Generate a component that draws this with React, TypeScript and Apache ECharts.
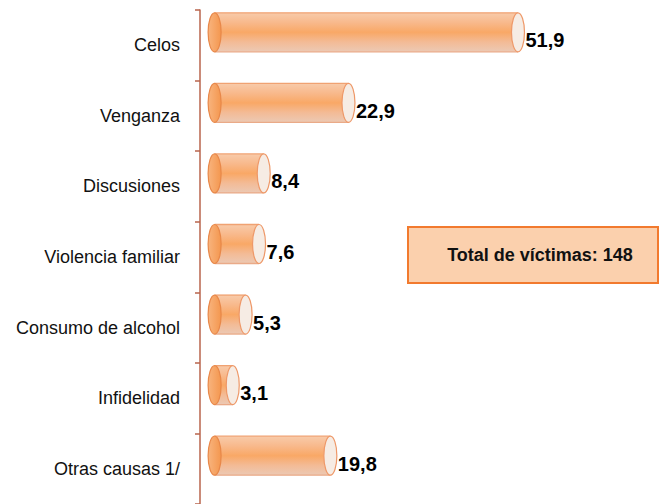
import React, { useEffect, useRef } from "react";
import * as echarts from "echarts";

const categories = [
  "Celos",
  "Venganza",
  "Discusiones",
  "Violencia familiar",
  "Consumo de alcohol",
  "Infidelidad",
  "Otras causas 1/",
];
const values = [51.9, 22.9, 8.4, 7.6, 5.3, 3.1, 19.8];
const totalLabel = "Total de víctimas: 148";

const FONT = "'Liberation Sans', Arial, sans-serif";

export default function App() {
  const ref = useRef<HTMLDivElement>(null);
  useEffect(() => {
    if (!ref.current) return;
    const chart = echarts.init(ref.current, null, { renderer: "svg" });
    const data = values.map((v, i) => [v, i]);
    chart.setOption({
      animation: false,
      grid: {
        left: 200,
        right: 8,
        top: 10,
        bottom: 0,
        containLabel: false,
        outerBoundsMode: "none",
      },
      xAxis: { type: "value", min: -2.5, max: 75, show: false },
      yAxis: {
        type: "category",
        data: categories,
        inverse: true,
        axisLine: { onZero: false, lineStyle: { color: "#b9654c", width: 1.5 } },
        axisTick: { show: true, length: 5, inside: false, lineStyle: { color: "#b9654c", width: 1.5 } },
        axisLabel: { color: "#111", fontFamily: FONT, fontSize: 18, margin: 20 },
      },
      series: [
        {
          type: "custom",
          data,
          encode: { x: 0, y: 1 },
          renderItem: (params: any, api: any) => {
            const v = api.value(0);
            const idx = api.value(1);
            const p0 = api.coord([0, idx]);
            const p1 = api.coord([v, idx]);
            const h = 39;
            const cy = p0[1] - 13;
            const x0 = p0[0];
            const x1 = p1[0];
            const rx = 6.5;
            const ry = h / 2;
            const top = cy - ry;
            const bodyGrad = new echarts.graphic.LinearGradient(0, 0, 0, 1, [
              { offset: 0, color: "#f8cbaa" },
              { offset: 0.25, color: "#f8b98c" },
              { offset: 0.5, color: "#f9a866" },
              { offset: 0.75, color: "#f3bb96" },
              { offset: 1, color: "#ecc9b4" },
            ]);
            const leftGrad = new echarts.graphic.LinearGradient(0, 0, 1, 0, [
              { offset: 0, color: "#f8b47e" },
              { offset: 1, color: "#f4974f" },
            ]);
            return {
              type: "group",
              children: [
                {
                  type: "rect",
                  shape: { x: x0, y: top, width: Math.max(0, x1 - x0), height: h },
                  style: { fill: bodyGrad },
                },
                {
                  type: "line",
                  shape: { x1: x0, y1: top, x2: x1, y2: top },
                  style: { stroke: "#f0a272", lineWidth: 1.3 },
                },
                {
                  type: "line",
                  shape: { x1: x0, y1: top + h, x2: x1, y2: top + h },
                  style: { stroke: "#eaaa88", lineWidth: 1.3 },
                },
                {
                  type: "ellipse",
                  shape: { cx: x0, cy, rx, ry },
                  style: { fill: leftGrad, stroke: "#e8884a", lineWidth: 1.2 },
                },
                {
                  type: "ellipse",
                  shape: { cx: x1, cy, rx, ry },
                  style: { fill: "#f6ece4", stroke: "#ee9868", lineWidth: 1.2 },
                },
                {
                  type: "text",
                  style: {
                    text: v.toFixed(1).replace(".", ","),
                    x: x1 + rx + 1,
                    y: cy + 8,
                    verticalAlign: "middle",
                    align: "left",
                    fill: "#000",
                    font: "bold 20px " + FONT,
                  },
                },
              ],
            };
          },
        },
      ],
      graphic: [
        {
          type: "group",
          left: 407,
          top: 226,
          children: [
            {
              type: "rect",
              shape: { x: 0, y: 0, width: 250, height: 56 },
              style: { fill: "#fbd0ad", stroke: "#f27a2e", lineWidth: 2 },
            },
            {
              type: "text",
              style: {
                text: totalLabel,
                x: 132,
                y: 28,
                align: "center",
                verticalAlign: "middle",
                fill: "#111",
                font: "bold 18px " + FONT,
              },
            },
          ],
        },
      ],
    });
    return () => chart.dispose();
  }, []);
  return (
    <div
      ref={ref}
      style={{ position: "fixed", left: 0, top: 0, width: 661, height: 504, background: "#fff" }}
    />
  );
}
